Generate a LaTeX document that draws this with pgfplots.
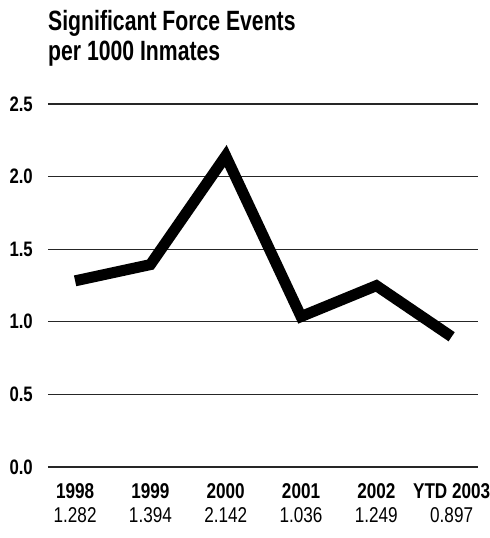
\documentclass[border=0pt]{standalone}
\usepackage{fontspec}
\setmainfont{Liberation Sans}[FakeStretch=0.8]
\newfontfamily\titlefont{Liberation Sans}[FakeStretch=0.76]
\usepackage{pgfplots}
\pgfplotsset{compat=1.18}
\begin{document}
\begin{tikzpicture}
\path[use as bounding box] (0,0) rectangle (490bp,538bp);
\node[anchor=base west, inner sep=0, font=\titlefont\bfseries\fontsize{28}{29}\selectfont] at (48bp,507bp) {Significant Force Events};
\node[anchor=base west, inner sep=0, font=\titlefont\bfseries\fontsize{28}{29}\selectfont] at (48bp,477bp) {per 1000 Inmates};
\begin{axis}[
  at={(48bp,71bp)}, anchor=south west,
  scale only axis, width=430bp, height=363bp,
  xmin=-0.36, xmax=5.35, ymin=0, ymax=2.5,
  axis line style={draw=none},
  major tick length=0pt,
  ytick={0,0.5,1,1.5,2,2.5},
  /pgf/number format/assume math mode=true,
  yticklabel={\pgfmathprintnumber[fixed,fixed zerofill,precision=1]{\tick}},
  yticklabel style={anchor=east, inner sep=0pt, xshift=-15bp, font=\bfseries\fontsize{21}{21}\selectfont},
  ymajorgrids,
  grid style={black!85, line width=1.2bp},
  xtick={0,1,2,3,4,5},
  xticklabels={{\textbf{1998}\\1.282},{\textbf{1999}\\1.394},{\textbf{2000}\\2.142},{\textbf{2001}\\1.036},{\textbf{2002}\\1.249},{\textbf{YTD 2003}\\0.897}},
  xticklabel style={anchor=north, inner sep=0pt, yshift=-16bp, align=center, font=\fontsize{21.5}{24}\selectfont},
]
\addplot[black, line width=11bp, line cap=butt, line join=miter, mark=none]
  coordinates {(0,1.282)(1,1.394)(2,2.142)(3,1.036)(4,1.249)(5,0.897)};
\end{axis}
\end{tikzpicture}
\end{document}
